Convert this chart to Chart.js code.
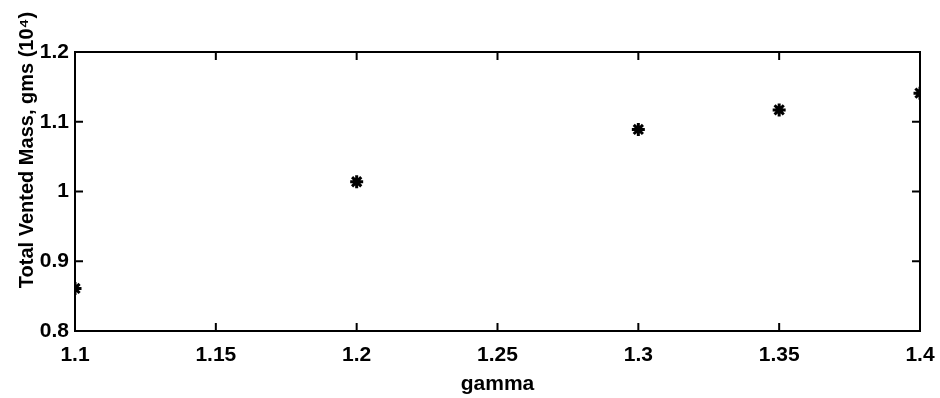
<!DOCTYPE html>
<html>
<head>
<meta charset="utf-8">
<script src="https://cdn.jsdelivr.net/npm/chart.js@4/dist/chart.umd.min.js"></script>
<style>
  html, body { margin: 0; padding: 0; background: #fff; }
  canvas { display: block; }
</style>
</head>
<body>
<canvas id="ventChart" width="940" height="398"></canvas>
<script>
// data
const gamma = [1.1, 1.2, 1.3, 1.35, 1.4];
const ventedMass = [0.861, 1.014, 1.089, 1.117, 1.141];
const xTicks = [1.1, 1.15, 1.2, 1.25, 1.3, 1.35, 1.4];
const yTicks = [0.8, 0.9, 1, 1.1, 1.2];
const yTitle = 'Total Vented Mass, gms (10\u2074)';

const fontFamily = '"Liberation Sans", Arial, sans-serif';

// box around the plot with inward tick marks on all four sides (MATLAB style)
const frameTicks = {
  id: 'frameTicks',
  afterDatasetsDraw(chart) {
    const { ctx, chartArea: a, scales: { x, y } } = chart;
    const len = 8;
    ctx.save();
    ctx.strokeStyle = '#000';
    ctx.lineWidth = 2;
    ctx.strokeRect(a.left, a.top, a.right - a.left, a.bottom - a.top);
    ctx.beginPath();
    xTicks.forEach(v => {
      const px = x.getPixelForValue(v);
      ctx.moveTo(px, a.bottom); ctx.lineTo(px, a.bottom - len);
      ctx.moveTo(px, a.top); ctx.lineTo(px, a.top + len);
    });
    yTicks.forEach(v => {
      const py = y.getPixelForValue(v);
      ctx.moveTo(a.left, py); ctx.lineTo(a.left + len, py);
      ctx.moveTo(a.right, py); ctx.lineTo(a.right - len, py);
    });
    ctx.stroke();

    // y label sits a bit above the axis centre in the original
    ctx.translate(27, 150);
    ctx.rotate(-Math.PI / 2);
    ctx.fillStyle = '#000';
    ctx.font = 'bold 20px ' + fontFamily;
    ctx.textAlign = 'center';
    ctx.textBaseline = 'middle';
    ctx.fillText(yTitle, 0, 0);
    ctx.restore();
  }
};

new Chart(document.getElementById('ventChart'), {
  type: 'scatter',
  data: {
    datasets: [{
      label: 'Total Vented Mass',
      data: gamma.map((g, i) => ({ x: g, y: ventedMass[i] })),
      pointStyle: 'star',
      pointRadius: 6.5,
      pointBorderWidth: 3,
      borderColor: '#000',
      backgroundColor: '#000',
      clip: 0
    }]
  },
  options: {
    responsive: false,
    animation: false,
    devicePixelRatio: 1,
    layout: { padding: { left: 0, right: 20, top: 52, bottom: 0 } },
    plugins: {
      legend: { display: false },
      tooltip: { enabled: false }
    },
    scales: {
      x: {
        type: 'linear',
        min: 1.1,
        max: 1.4,
        afterBuildTicks: s => { s.ticks = xTicks.map(v => ({ value: v })); },
        afterFit: s => {
          s.height = 67;
          s.paddingLeft = 0;
          s.paddingRight = 0;
        },
        grid: { display: false, drawTicks: false },
        border: { display: false },
        ticks: {
          color: '#000',
          padding: 12,
          maxRotation: 0,
          font: { family: fontFamily, size: 21, weight: 'bold' },
          callback: v => String(+v.toFixed(2))
        },
        title: {
          display: true,
          text: 'gamma',
          color: '#000',
          padding: { top: 0, bottom: 1 },
          font: { family: fontFamily, size: 21, weight: 'bold' }
        }
      },
      y: {
        type: 'linear',
        min: 0.8,
        max: 1.2,
        afterBuildTicks: s => { s.ticks = yTicks.map(v => ({ value: v })); },
        afterFit: s => {
          s.width = 75;
          s.paddingTop = 0;
          s.paddingBottom = 0;
        },
        grid: { display: false, drawTicks: false },
        border: { display: false },
        ticks: {
          color: '#000',
          padding: 6,
          font: { family: fontFamily, size: 21, weight: 'bold' },
          callback: v => String(+v.toFixed(2))
        }
      }
    }
  },
  plugins: [frameTicks]
});
</script>
</body>
</html>
